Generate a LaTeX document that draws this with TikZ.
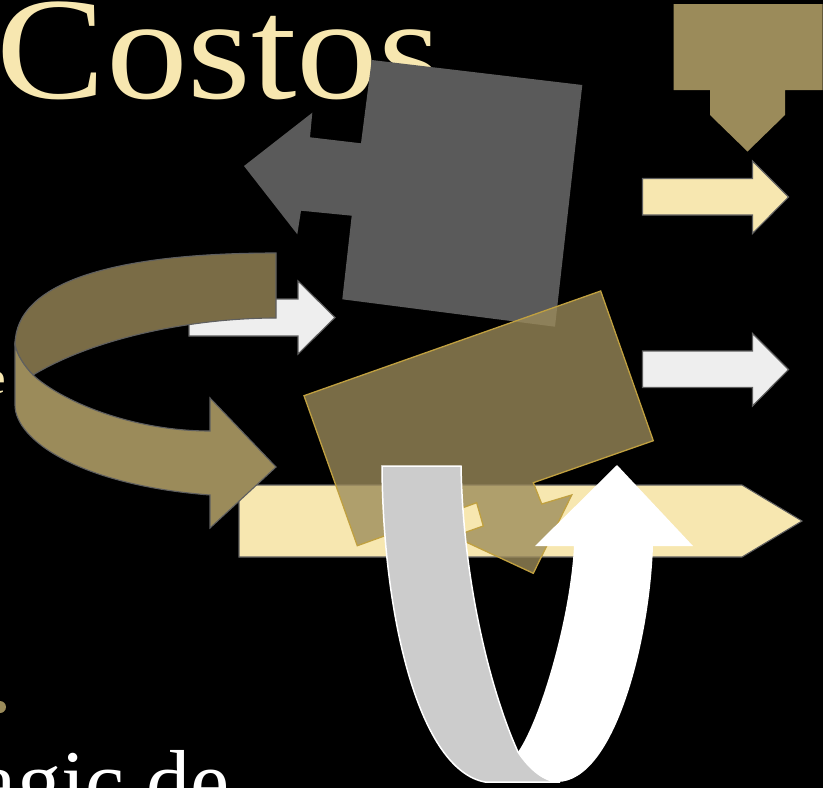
\documentclass[tikz,border=0pt]{standalone}
\usepackage{fontspec}
\setmainfont{Liberation Serif}
\definecolor{cream}{HTML}{F7E7B0}
\definecolor{gold}{HTML}{9B8B5A}
\definecolor{darkgold}{HTML}{7A6C46}
\definecolor{edgegray}{HTML}{5F5F5F}
\definecolor{offwhite}{HTML}{EEEEEE}
\definecolor{slate}{HTML}{5A5A5A}
\definecolor{lightgray}{HTML}{CCCCCC}
\definecolor{goldline}{HTML}{C0A040}
\definecolor{callgold}{HTML}{9C8B5A}
\tikzset{
  arrowshape/.style={draw=edgegray, line width=1.1pt, line join=miter},
  txt/.style={inner sep=0pt, outer sep=0pt, anchor=base west},
}
\begin{document}
\begin{tikzpicture}[x=1pt,y=-1pt]
\useasboundingbox (0,0) rectangle (823,788);
\fill[black] (0,0) rectangle (823,788);
\clip (0,0) rectangle (823,788);

% texts
\node[txt, text=cream, xscale=1.12] (title) at (-3,98) {\fontsize{146}{146}\selectfont Costos};
\node[txt, text=cream] (eletter) at (-14,393) {\fontsize{46}{46}\selectfont e};
\node[txt, text=white] (body) at (-22,811) {\fontsize{88}{88}\selectfont agic de};
\fill[gold] (0,707) circle (6);

% top right gold down-arrow callout
\fill[gold] (673.5,4) -- (822.5,4) -- (822.5,90) -- (785,90) -- (785,115) -- (747.5,151.5)
  -- (710,115) -- (710,90) -- (673.5,90) -- cycle;
% right arrows
\path[arrowshape, fill=cream] (642.5,178.5) -- (752.5,178.5) -- (752.5,161) -- (788.5,197)
  -- (752.5,233.5) -- (752.5,215) -- (642.5,215) -- cycle;
\path[arrowshape, fill=offwhite] (642.5,351) -- (752.5,351) -- (752.5,333.5) -- (788.5,369.5)
  -- (752.5,406) -- (752.5,387.5) -- (642.5,387.5) -- cycle;

% long cream bar
\path[arrowshape, fill=cream] (239,485) -- (742,485) -- (802,521) -- (742,557) -- (239,557) -- cycle;

% small white arrow
\path[arrowshape, fill=offwhite] (189,299) -- (298,299) -- (298,281) -- (335,317.5) -- (298,354)
  -- (298,336) -- (189,336) -- cycle;

% gold circular arrow: back band
\path[arrowshape, fill=darkgold] (276,253) .. controls (120,253) and (15,280) .. (15,345)
  .. controls (17,355) and (25,367) .. (33,375)
  .. controls (100,335) and (200,318) .. (276,318) -- cycle;
% front band with head
\path[arrowshape, fill=gold] (15,345) -- (15,405) .. controls (15,440) and (80,485) .. (210,495)
  -- (210,528) -- (276,467) -- (210,398) -- (210,431)
  .. controls (130,431) and (60,400) .. (33,375)
  .. controls (25,367) and (17,355) .. (15,345) -- cycle;

% dark gray left-arrow callout
\fill[slate] (371.7,60) -- (582.3,85) -- (555,326.7) -- (342.3,299.3) -- (351.7,215.7)
  -- (301,210.7) -- (297.3,234.3) -- (244,166) -- (312.3,112.7) -- (310,137.3) -- (361,143.3) -- cycle;

% tilted gold callout
\path[fill=callgold, fill opacity=0.78, draw=goldline, line width=1.3pt, line join=miter]
  (304,395.7) -- (600.7,291) -- (653.3,440.7) -- (533.3,482.7) -- (541.7,504) -- (571.7,495)
  -- (533.3,573.3) -- (454,536.4) -- (483.3,526) -- (476.7,502.7) -- (357.3,545.7) -- cycle;

% U-turn arrow: grey band
\path[fill=lightgray, draw=white, line width=1.5pt] (382,466) -- (461,466)
  .. controls (463,580) and (490,690) .. (518,752)
  .. controls (530,770) and (545,782) .. (560,782)
  -- (485,782) .. controls (420,770) and (383,620) .. (382,466) -- cycle;
% white part with head
\fill[white] (518,752) .. controls (540,720) and (570,620) .. (574,546) -- (535,546) -- (617,465)
  -- (693,546) -- (653,546) .. controls (650,640) and (615,782) .. (557,782)
  .. controls (545,782) and (530,770) .. (518,752) -- cycle;
\end{tikzpicture}
\end{document}
